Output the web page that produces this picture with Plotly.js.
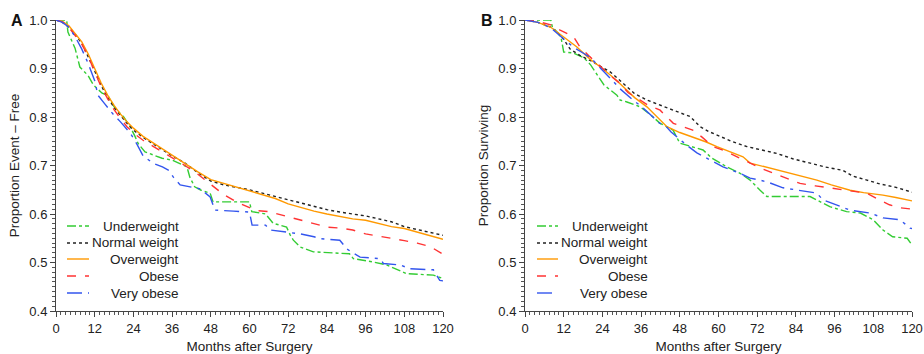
<!DOCTYPE html>
<html><head><meta charset="utf-8">
<script src="https://cdn.plot.ly/plotly-3.0.1.min.js"></script>
<style>html,body{margin:0;padding:0;background:#fff}#chart{width:924px;height:354px}</style>
</head><body><div id="chart"></div>
<script>
// ---------- Panel A: event-free ----------
const groupNames = ["Underweight", "Normal weight", "Overweight", "Obese", "Very obese"];
const xTicks = [0, 12, 24, 36, 48, 60, 72, 84, 96, 108, 120];
const yTicks = [0.4, 0.5, 0.6, 0.7, 0.8, 0.9, 1.0];

const aUnderM = [0,3.3,3.7,5.9,7.4,10,11.6,14.3,16,18.3,21,23,24.5,25.5,27.6,30,32.9,36,40.6,41.5,43,45,47.8,48.7,60,60.7,65,67.3,71.5,72.6,73.6,75.7,79.8,91,92.2,98.4,102.5,108.7,117,120];
const aUnderV = [1,1,0.975,0.942,0.903,0.885,0.866,0.849,0.845,0.818,0.8,0.78,0.76,0.745,0.728,0.722,0.715,0.711,0.697,0.676,0.656,0.649,0.643,0.625,0.625,0.605,0.6,0.581,0.573,0.557,0.546,0.532,0.522,0.518,0.508,0.501,0.495,0.477,0.474,0.467];

const aNormM = [0,2,4,6,8,10,12,14,16,18,20,22,24,27,30,33,36,40,44,48,52,56,60,64,68,72,76,80,84,88,92,96,100,104,108,112,116,120];
const aNormV = [1,0.995,0.985,0.97,0.952,0.925,0.895,0.865,0.84,0.82,0.803,0.787,0.773,0.758,0.745,0.732,0.72,0.705,0.685,0.668,0.66,0.655,0.65,0.643,0.636,0.629,0.622,0.615,0.609,0.604,0.6,0.596,0.59,0.584,0.574,0.568,0.563,0.556];

const aOverM = [0,2,4,6,8,10,12,14,16,18,20,22,24,27,30,33,36,40,44,48,52,56,60,64,68,72,76,80,84,88,92,96,100,104,108,112,116,120];
const aOverV = [1,0.997,0.988,0.972,0.955,0.93,0.9,0.87,0.845,0.824,0.806,0.79,0.777,0.76,0.747,0.734,0.722,0.705,0.687,0.671,0.663,0.655,0.648,0.64,0.632,0.621,0.613,0.606,0.6,0.595,0.59,0.587,0.58,0.574,0.57,0.563,0.556,0.548];

const aObeseM = [0,2,4,6,8,10,12,14,16,18,20,22,24,27,30,33,36,40,44,48,50,52,56,60,62,66,70,72,76,80,84,88,92,96,100,104,108,112,116,120];
const aObeseV = [1,0.996,0.985,0.968,0.95,0.925,0.893,0.862,0.838,0.815,0.797,0.78,0.767,0.752,0.74,0.728,0.716,0.7,0.682,0.66,0.649,0.64,0.625,0.612,0.607,0.605,0.598,0.594,0.587,0.58,0.573,0.571,0.567,0.559,0.555,0.55,0.545,0.54,0.533,0.517];

const aVeryM = [0,2,4,6,8,10,12,13,15,17.7,20,23,25,27,30,33,35,36.4,38.5,42,44.7,47.8,49.3,55,60,60.8,65,66.4,71.5,75.7,80,82,88,90.2,92,94.3,100.5,101.5,106.7,109.8,117,119,120];
const aVeryV = [1,0.995,0.985,0.965,0.94,0.91,0.875,0.845,0.828,0.806,0.79,0.767,0.745,0.72,0.705,0.697,0.69,0.676,0.66,0.655,0.652,0.635,0.608,0.606,0.604,0.577,0.577,0.567,0.563,0.559,0.553,0.549,0.546,0.528,0.52,0.511,0.508,0.498,0.495,0.487,0.485,0.463,0.462];

// ---------- Panel B: survival ----------
const bUnderM = [0,8,8.5,10,11.2,12,15,18.3,20.4,22.3,24.5,26.4,28.5,29.5,31.6,35.7,39,41.9,45.9,48,52,55.2,58,62.6,66.7,69.8,72.9,75,88.4,90.5,94.5,99.7,104,108,111,114,118.5,120];
const bUnderV = [1,1,0.985,0.975,0.963,0.934,0.932,0.922,0.907,0.887,0.866,0.856,0.845,0.835,0.831,0.821,0.804,0.787,0.773,0.746,0.738,0.732,0.715,0.697,0.684,0.67,0.649,0.636,0.636,0.629,0.615,0.605,0.602,0.588,0.567,0.553,0.55,0.536];

const bNormM = [0,4,7.8,10,12,14,17,21,24,26.4,29,31.6,34,37.8,42,46,51.2,54.3,57,59.5,64,68.8,73,78,83,88.4,93,98.6,101.7,106,110,115,120];
const bNormV = [1,0.995,0.986,0.975,0.96,0.94,0.927,0.914,0.902,0.893,0.878,0.862,0.848,0.835,0.825,0.814,0.801,0.78,0.77,0.763,0.75,0.739,0.732,0.725,0.714,0.704,0.697,0.69,0.678,0.67,0.662,0.655,0.645];

const bOverM = [0,4,8,12,16,20,24,28,31.6,34,37.8,41,44,48,52,56,59.5,64,67.6,69.8,75,80,85,90.5,95,100.8,105,111,115,120];
const bOverV = [1,0.995,0.985,0.965,0.945,0.92,0.9,0.878,0.856,0.84,0.821,0.8,0.78,0.768,0.759,0.749,0.739,0.728,0.718,0.705,0.696,0.687,0.678,0.67,0.66,0.649,0.644,0.639,0.634,0.627];

const bObeseM = [0,4,8,10.9,15,17,20,23.3,26,29.5,32,35.7,38,41.9,46,49,52,55,58.3,62,67.6,72.9,76,80,85.3,90,95.6,100,106,109,113,116,120];
const bObeseV = [1,0.997,0.99,0.979,0.966,0.945,0.925,0.904,0.888,0.869,0.85,0.835,0.825,0.814,0.787,0.78,0.773,0.758,0.739,0.73,0.712,0.695,0.687,0.676,0.663,0.658,0.653,0.649,0.643,0.632,0.619,0.613,0.61];

const bVeryM = [0,4,8,10,12,15,18,20.4,23.5,25.5,27.6,29.5,31.6,33.5,36,39.7,41,44,45.3,48,50.5,53.3,57.4,61.4,66.7,69.8,72.9,76,80,85.3,90.5,92.4,96,100.8,107,111,116.3,119.4,120];
const bVeryV = [1,0.995,0.984,0.973,0.96,0.944,0.932,0.922,0.9,0.887,0.872,0.858,0.845,0.835,0.822,0.8,0.79,0.779,0.769,0.753,0.74,0.726,0.711,0.697,0.684,0.674,0.67,0.664,0.654,0.649,0.643,0.629,0.62,0.608,0.602,0.592,0.588,0.571,0.57];

const colors = ["#33cc33", "#222222", "#ff9900", "#ff3333", "#3355ee"];
const dashes = ["dashdot", "dot", "solid", "dash", "longdashdot"];

const seriesA = [[aUnderM,aUnderV],[aNormM,aNormV],[aOverM,aOverV],[aObeseM,aObeseV],[aVeryM,aVeryV]];
const seriesB = [[bUnderM,bUnderV],[bNormM,bNormV],[bOverM,bOverV],[bObeseM,bObeseV],[bVeryM,bVeryV]];

const W = 924, H = 354;
const px = x => x / W, py = y => 1 - y / H;

const traces = [];
seriesA.forEach((s, i) => traces.push({x: s[0], y: s[1], type: "scatter", mode: "lines", name: groupNames[i],
  line: {shape: "linear", color: colors[i], dash: dashes[i], width: 1.4}, xaxis: "x", yaxis: "y", showlegend: false}));
seriesB.forEach((s, i) => traces.push({x: s[0], y: s[1], type: "scatter", mode: "lines", name: groupNames[i],
  line: {shape: "linear", color: colors[i], dash: dashes[i], width: 1.4}, xaxis: "x2", yaxis: "y2", showlegend: false}));

const ff = "Liberation Sans, Arial, sans-serif";
const font = {family: ff, size: 13, color: "#222"};
function xa(domain, anchor) {
  return {domain: domain, anchor: anchor, range: [0, 120], tickvals: xTicks, ticktext: xTicks.map(String),
    showgrid: false, zeroline: false, showline: true, linecolor: "#444", linewidth: 1,
    ticks: "outside", ticklen: 5, tickcolor: "#444", tickfont: font, automargin: false,
    minor: {dtick: 1.5, ticks: "outside", ticklen: 3, tickcolor: "#555", showgrid: false},
    title: {text: "Months after Surgery", font: {family: ff, size: 13.5, color: "#222"}, standoff: 6}};
}
function ya(domain, anchor, title) {
  return {domain: domain, anchor: anchor, range: [0.4, 1.0], tickvals: yTicks, ticktext: yTicks.map(v => v.toFixed(1)),
    showgrid: false, zeroline: false, showline: true, linecolor: "#444", linewidth: 1,
    ticks: "outside", ticklen: 5, tickcolor: "#444", tickfont: font, automargin: false,
    minor: {dtick: 0.01, ticks: "outside", ticklen: 3, tickcolor: "#555", showgrid: false},
    title: {text: title, font: {family: ff, size: 13.5, color: "#222"}, standoff: 6}};
}

const yDom = [py(311), py(20)];
const shapes = [], annotations = [];
const rowY = [226, 243, 259, 276, 293];
function addLegend(x0, x1, xText) {
  groupNames.forEach((n, i) => {
    shapes.push({type: "line", xref: "paper", yref: "paper", x0: px(x0), x1: px(x1), y0: py(rowY[i]), y1: py(rowY[i]),
      line: {color: colors[i], dash: dashes[i], width: 1.4}});
    annotations.push({xref: "paper", yref: "paper", x: px(xText), y: py(rowY[i]), xanchor: "right", yanchor: "middle",
      text: n, showarrow: false, font: {family: ff, size: 13.5, color: "#222"}});
  });
}
addLegend(67, 89, 181);
addLegend(537, 558, 650);
annotations.push({xref: "paper", yref: "paper", x: px(17), y: py(21), xanchor: "center", yanchor: "middle", text: "<b>A</b>",
  showarrow: false, font: {family: ff, size: 16, color: "#111"}});
annotations.push({xref: "paper", yref: "paper", x: px(487), y: py(21), xanchor: "center", yanchor: "middle", text: "<b>B</b>",
  showarrow: false, font: {family: ff, size: 16, color: "#111"}});

const layout = {
  width: W, height: H, margin: {l: 0, r: 0, t: 0, b: 0}, paper_bgcolor: "#fff", plot_bgcolor: "#fff",
  showlegend: false, font: font,
  xaxis: xa([px(56), px(443)], "y"), yaxis: ya(yDom, "x", "Proportion Event – Free"),
  xaxis2: xa([px(525), px(912)], "y2"), yaxis2: ya(yDom, "x2", "Proportion Surviving"),
  shapes: shapes, annotations: annotations
};
Plotly.newPlot("chart", traces, layout, {staticPlot: true, displayModeBar: false});
</script></body></html>
